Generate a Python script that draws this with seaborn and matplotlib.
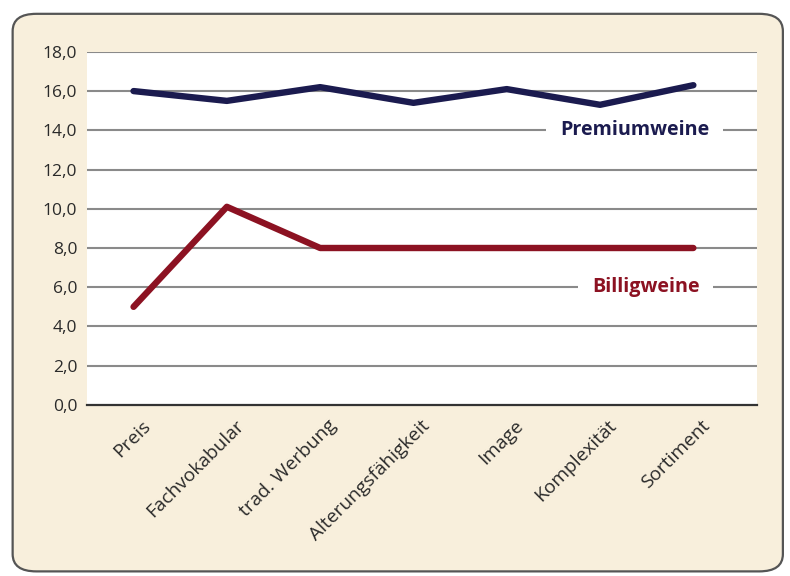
import pandas as pd
import matplotlib.pyplot as plt
import matplotlib.transforms as mtransforms
import seaborn as sns
from matplotlib.patches import FancyBboxPatch
from matplotlib.ticker import FixedLocator

# data
categories = ["Preis", "Fachvokabular", "trad. Werbung", "Alterungsfähigkeit",
              "Image", "Komplexität", "Sortiment"]
premium = [16.0, 15.5, 16.2, 15.4, 16.1, 15.3, 16.3]
billig = [5.0, 10.1, 8.0, 8.0, 8.0, 8.0, 8.0]
series_names = ["Premiumweine", "Billigweine"]
y_ticks = [0, 2, 4, 6, 8, 10, 12, 14, 16, 18]

df = pd.DataFrame({
    "Kriterium": categories * 2,
    "Wert": premium + billig,
    "Serie": [series_names[0]] * len(categories) + [series_names[1]] * len(categories),
})

bg = "#f8efdc"
navy = "#1b1b4f"
wine = "#8c1222"
txt = "#2a2a2a"

sns.set_theme(style="white")
plt.rcParams["font.family"] = ["Open Sans", "DejaVu Sans"]

fig = plt.figure(figsize=(7.9, 5.76), dpi=100)
fig.patch.set_facecolor("white")
# rounded beige card behind the chart
frame = FancyBboxPatch((0.016, 0.008), 0.975, 0.968, boxstyle="round,pad=0,rounding_size=0.03",
                       transform=fig.transFigure, facecolor=bg, edgecolor="#555555",
                       linewidth=1.6, zorder=-1)
fig.patches.append(frame)

ax = fig.add_axes([0.110, 0.297, 0.848, 0.613])
ax.set_facecolor("white")

sns.lineplot(data=df, x="Kriterium", y="Wert", hue="Serie", sort=False,
             palette={series_names[0]: navy, series_names[1]: wine},
             linewidth=4.6, legend=False, ax=ax, zorder=3)

ax.set_xlim(-0.5, 6.68)
ax.set_ylim(0, 18)
ax.set_yticks(y_ticks)
ax.set_yticklabels([f"{v:.1f}".replace(".", ",") for v in y_ticks])
for v in y_ticks[1:]:
    ax.axhline(v, color="#8a8a8a", linewidth=1.5, zorder=1)

ax.set_xticks(range(len(categories)))
ax.xaxis.set_minor_locator(FixedLocator([i + 0.5 for i in range(len(categories))]))
ax.tick_params(axis="x", which="major", length=0, pad=13, labelsize=13.8, labelcolor=txt)
ax.tick_params(axis="x", which="minor", length=7, width=1.2, color="#333333", direction="out")
ax.tick_params(axis="y", length=0, pad=7, labelsize=12.5, labelcolor=txt)
ax.set_xticklabels(categories, rotation=45, ha="right", va="center", rotation_mode="anchor")
# nudge the rotated labels to the right, as in the original
shift = mtransforms.ScaledTranslation(14 / 100, 0, fig.dpi_scale_trans)
for lab in ax.get_xticklabels():
    lab.set_transform(lab.get_transform() + shift)
ax.set_xlabel("")
ax.set_ylabel("")

for s in ["top", "right", "left"]:
    ax.spines[s].set_visible(False)
ax.spines["bottom"].set_color("#333333")
ax.spines["bottom"].set_linewidth(1.6)

ax.text(0.818, 14, series_names[0], transform=ax.get_yaxis_transform(), ha="center",
        va="center", fontsize=14.2, fontweight="bold", color=navy, zorder=2,
        bbox=dict(facecolor="white", edgecolor="none", pad=10))
ax.text(0.834, 6, series_names[1], transform=ax.get_yaxis_transform(), ha="center",
        va="center", fontsize=14.2, fontweight="bold", color=wine, zorder=2,
        bbox=dict(facecolor="white", edgecolor="none", pad=10))

plt.savefig("out.png", dpi=100, facecolor=fig.get_facecolor())
